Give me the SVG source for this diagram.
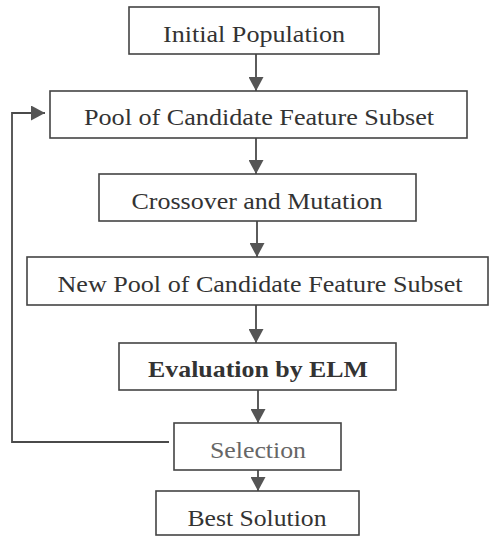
<svg xmlns="http://www.w3.org/2000/svg" width="490" height="537" viewBox="0 0 490 537">
<style>
.box{fill:#fff;stroke:#444;stroke-width:1.6}
.t{font-family:"Liberation Serif","Times New Roman",serif;font-size:24px;fill:#333;text-anchor:middle}
.b{font-weight:bold}
.g{fill:#666}
.c{fill:none;stroke:#4a4a4a;stroke-width:1.8}
</style>
<defs>
<marker id="ah" markerWidth="15" markerHeight="15" refX="14" refY="7.5" orient="auto" markerUnits="userSpaceOnUse">
<path d="M0,0 L14,7.5 L0,15 Z" fill="#555"/>
</marker>
</defs>
<rect width="490" height="537" fill="#fff"/>
<g id="connectors">
<line class="c" x1="256" y1="54" x2="256" y2="91" marker-end="url(#ah)"/>
<line class="c" x1="256" y1="138" x2="256" y2="174" marker-end="url(#ah)"/>
<line class="c" x1="257" y1="221" x2="257" y2="257" marker-end="url(#ah)"/>
<line class="c" x1="256" y1="305" x2="256" y2="343" marker-end="url(#ah)"/>
<line class="c" x1="258" y1="390" x2="258" y2="423" marker-end="url(#ah)"/>
<line class="c" x1="258" y1="470" x2="258" y2="491" marker-end="url(#ah)"/>
<polyline class="c" points="169,442 12,442 12,113 45,113" marker-end="url(#ah)"/>
</g>
<g id="initial">
<rect class="box" x="129" y="7" width="250" height="47"/>
<text class="t" x="254" y="42" textLength="182" lengthAdjust="spacingAndGlyphs">Initial Population</text>
</g>
<g id="pool">
<rect class="box" x="50" y="91" width="417" height="47"/>
<text class="t" x="259" y="125" textLength="350" lengthAdjust="spacingAndGlyphs">Pool of Candidate Feature Subset</text>
</g>
<g id="crossover">
<rect class="box" x="99" y="174" width="317" height="47"/>
<text class="t" x="257" y="209" textLength="251" lengthAdjust="spacingAndGlyphs">Crossover and Mutation</text>
</g>
<g id="newpool">
<rect class="box" x="27" y="257" width="461" height="48"/>
<text class="t" x="260" y="292" textLength="405" lengthAdjust="spacingAndGlyphs">New Pool of Candidate Feature Subset</text>
</g>
<g id="evaluation">
<rect class="box" x="119" y="343" width="277" height="47"/>
<text class="t b" x="258" y="377" textLength="220" lengthAdjust="spacingAndGlyphs">Evaluation by ELM</text>
</g>
<g id="selection">
<rect class="box" x="174" y="423" width="167" height="47"/>
<text class="t g" x="258" y="458" textLength="96" lengthAdjust="spacingAndGlyphs">Selection</text>
</g>
<g id="best">
<rect class="box" x="156" y="491" width="203" height="44"/>
<text class="t" x="257" y="526" textLength="139" lengthAdjust="spacingAndGlyphs">Best Solution</text>
</g>
</svg>
